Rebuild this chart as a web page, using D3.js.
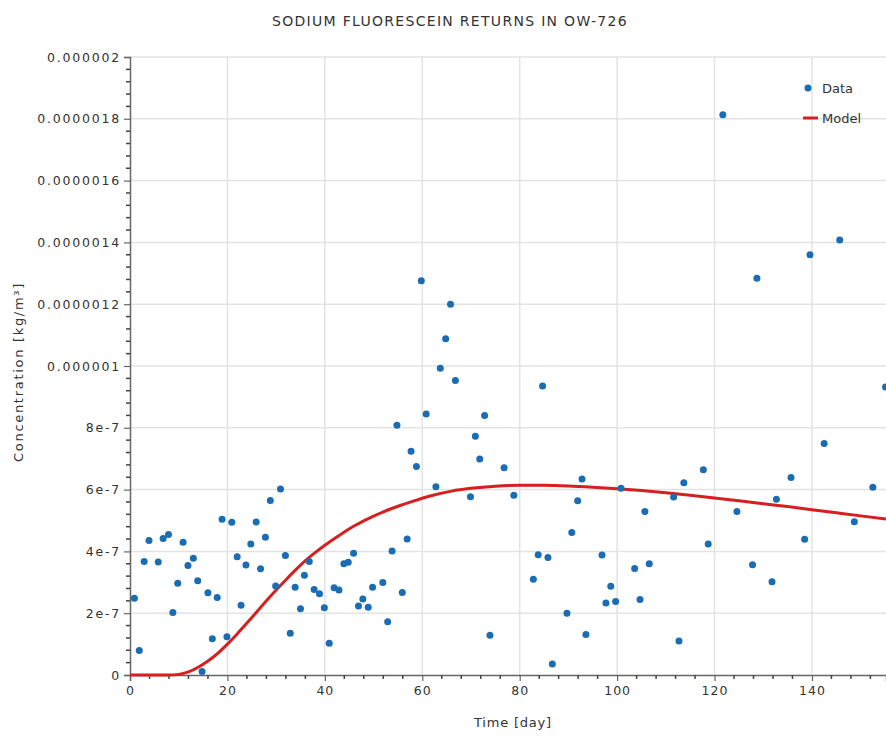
<!DOCTYPE html>
<html><head><meta charset="utf-8">
<script src="https://cdn.jsdelivr.net/npm/d3@7"></script>
<style>
body{margin:0;background:#fff;}
text{font-family:"DejaVu Sans",sans-serif;fill:#333;}
</style></head>
<body><svg id="c" width="886" height="740"></svg>
<script>
const title = "SODIUM FLUORESCEIN RETURNS IN OW-726";
const xLabel = "Time [day]";
const yLabel = "Concentration [kg/m³]";
const xTicks = [0,20,40,60,80,100,120,140];
const yTicks = [0,2e-7,4e-7,6e-7,8e-7,1e-6,1.2e-6,1.4e-6,1.6e-6,1.8e-6,2e-6];
const yTickLabels = ["0","2e-7","4e-7","6e-7","8e-7","0.000001","0.0000012","0.0000014","0.0000016","0.0000018","0.000002"];
const seriesNames = ["Data","Model"];

const dataTime = [0.9,1.9,2.9,3.9,5.8,6.8,7.9,8.8,9.8,10.9,11.9,13.0,13.9,14.8,16.0,16.9,17.9,18.9,19.9,20.9,
22.0,22.8,23.8,24.8,25.9,26.8,27.8,28.8,29.9,30.9,31.9,32.9,33.9,35.0,35.8,36.8,37.8,38.9,39.9,40.9,
41.9,42.9,43.9,44.8,45.9,46.9,47.8,48.9,49.8,51.9,52.9,53.8,54.8,55.9,56.9,57.7,58.8,59.8,60.8,62.8,
63.7,64.8,65.8,66.8,69.9,70.9,71.8,72.8,73.9,76.8,78.8,82.8,83.8,84.7,85.8,86.7,89.7,90.7,91.9,92.8,
93.6,96.9,97.7,98.7,99.7,100.8,103.6,104.7,105.7,106.6,111.6,112.7,113.7,117.7,118.7,121.7,124.6,127.8,128.7,131.8,
132.7,135.7,138.5,139.6,142.5,145.7,148.7,152.5,155.1];
const dataConc = [2.48e-7,0.79e-7,3.67e-7,4.35e-7,3.66e-7,4.42e-7,4.55e-7,2.02e-7,2.97e-7,4.30e-7,3.54e-7,3.78e-7,3.05e-7,0.11e-7,2.66e-7,1.17e-7,2.51e-7,5.04e-7,1.24e-7,4.94e-7,
3.83e-7,2.26e-7,3.56e-7,4.24e-7,4.95e-7,3.44e-7,4.46e-7,5.65e-7,2.88e-7,6.02e-7,3.87e-7,1.35e-7,2.84e-7,2.14e-7,3.23e-7,3.67e-7,2.77e-7,2.63e-7,2.18e-7,1.03e-7,
2.82e-7,2.75e-7,3.60e-7,3.65e-7,3.94e-7,2.23e-7,2.46e-7,2.19e-7,2.84e-7,2.99e-7,1.72e-7,4.01e-7,8.08e-7,2.67e-7,4.40e-7,7.24e-7,6.75e-7,12.76e-7,8.45e-7,6.09e-7,
9.93e-7,10.88e-7,12.0e-7,9.53e-7,5.77e-7,7.73e-7,6.99e-7,8.40e-7,1.29e-7,6.71e-7,5.82e-7,3.10e-7,3.89e-7,9.35e-7,3.80e-7,0.36e-7,2.0e-7,4.61e-7,5.64e-7,6.34e-7,
1.31e-7,3.88e-7,2.33e-7,2.87e-7,2.38e-7,6.04e-7,3.45e-7,2.44e-7,5.29e-7,3.60e-7,5.76e-7,1.10e-7,6.22e-7,6.64e-7,4.24e-7,18.13e-7,5.29e-7,3.57e-7,12.84e-7,3.02e-7,
5.69e-7,6.39e-7,4.39e-7,13.6e-7,7.49e-7,14.08e-7,4.96e-7,6.08e-7,9.32e-7];

const modelTime = [0,8,10,12,14,16,18,20,22,24,26,28,30,32,34,36,38,40,42,44,46,48,50,52,55,58,62,66,70,75,80,85,90,95,100,105,110,115,120,125,130,135,140,145,150,155.2];
const modelConc = [0,0,0.02e-7,0.1e-7,0.25e-7,0.45e-7,0.7e-7,1.0e-7,1.33e-7,1.68e-7,2.04e-7,2.4e-7,2.75e-7,3.08e-7,3.4e-7,3.7e-7,3.96e-7,4.2e-7,4.42e-7,4.63e-7,4.82e-7,4.99e-7,5.14e-7,5.28e-7,5.46e-7,5.62e-7,5.81e-7,5.95e-7,6.04e-7,6.11e-7,6.14e-7,6.14e-7,6.12e-7,6.08e-7,6.03e-7,5.97e-7,5.9e-7,5.82e-7,5.73e-7,5.64e-7,5.54e-7,5.45e-7,5.35e-7,5.25e-7,5.15e-7,5.05e-7];

const svg = d3.select("#c");
const L=130, R=886, T=57, B=675;
const x = d3.scaleLinear().domain([0,155.2]).range([L,R]);
const y = d3.scaleLinear().domain([0,2e-6]).range([B,T]);

// grid
svg.append("g").selectAll("line").data(xTicks.filter(d=>d>0)).join("line")
  .attr("x1",d=>x(d)).attr("x2",d=>x(d)).attr("y1",T).attr("y2",B)
  .attr("stroke","#e3e3e3").attr("stroke-width",1.5);
svg.append("g").selectAll("line").data(yTicks.filter(d=>d>0)).join("line")
  .attr("x1",L).attr("x2",R).attr("y1",d=>y(d)).attr("y2",d=>y(d))
  .attr("stroke","#e3e3e3").attr("stroke-width",1.5);

// minor ticks
const yMinor = d3.range(0,51).map(i=>i*4e-8).filter((d,i)=>i%5!==0);
const xMinor = d3.range(0,39).map(i=>i*4).filter((d,i)=>i%5!==0);
const yAxis = d3.axisLeft(y).tickValues(yTicks).tickFormat((d,i)=>yTickLabels[i]).tickSize(6).tickPadding(3);
const xAxis = d3.axisBottom(x).tickValues(xTicks).tickFormat(d3.format("d")).tickSize(6).tickPadding(5);

const gy = svg.append("g").attr("transform",`translate(${L},0)`).call(yAxis);
gy.append("g").selectAll("line").data(yMinor).join("line")
  .attr("x1",-4).attr("x2",0).attr("y1",d=>y(d)).attr("y2",d=>y(d)).attr("stroke","#444").attr("stroke-width",1.5);
const gx = svg.append("g").attr("transform",`translate(0,${B})`).call(xAxis);
gx.append("g").selectAll("line").data(xMinor).join("line")
  .attr("x1",d=>x(d)).attr("x2",d=>x(d)).attr("y1",0).attr("y2",4).attr("stroke","#444").attr("stroke-width",1.5);
[gy,gx].forEach(g=>{
  g.select(".domain").attr("stroke","#666").attr("stroke-width",1.5);
  g.selectAll(".tick line").attr("stroke","#666").attr("stroke-width",1.2);
  g.selectAll(".tick text").style("font-family","DejaVu Sans").style("font-size","12.5px").attr("fill","#333");
});
gy.selectAll(".tick text").style("letter-spacing","1.8px");
gx.selectAll(".tick text").style("letter-spacing","1px");

// model line
const line = d3.line().x((d,i)=>x(modelTime[i])).y((d,i)=>y(modelConc[i])).curve(d3.curveMonotoneX);
svg.append("path").datum(modelTime).attr("d",line).attr("fill","none").attr("stroke","#d81e1e").attr("stroke-width",3);

// data points
svg.append("g").selectAll("circle").data(dataTime).join("circle")
  .attr("cx",(d,i)=>x(d)).attr("cy",(d,i)=>y(dataConc[i])).attr("r",3.5).attr("fill","#1a6db3");

// title & labels
svg.append("text").attr("x",450).attr("y",26).attr("text-anchor","middle").style("font-size","14px").style("letter-spacing","1.3px").text(title);
svg.append("text").attr("x",(L+R)/2+5).attr("y",727).attr("text-anchor","middle").style("font-size","13px").style("letter-spacing","0.8px").text(xLabel);
svg.append("text").attr("transform",`translate(23,${(T+B)/2+6}) rotate(-90)`).attr("text-anchor","middle").style("font-size","13px").style("letter-spacing","1.7px").text(yLabel);

// legend
const lg = svg.append("g");
lg.append("circle").attr("cx",808).attr("cy",88).attr("r",3.5).attr("fill","#1a6db3");
lg.append("text").attr("x",822).attr("y",93).style("font-size","13px").text(seriesNames[0]);
lg.append("line").attr("x1",803).attr("x2",818).attr("y1",118).attr("y2",118).attr("stroke","#d81e1e").attr("stroke-width",3);
lg.append("text").attr("x",822).attr("y",123).style("font-size","13px").text(seriesNames[1]);
</script></body></html>
